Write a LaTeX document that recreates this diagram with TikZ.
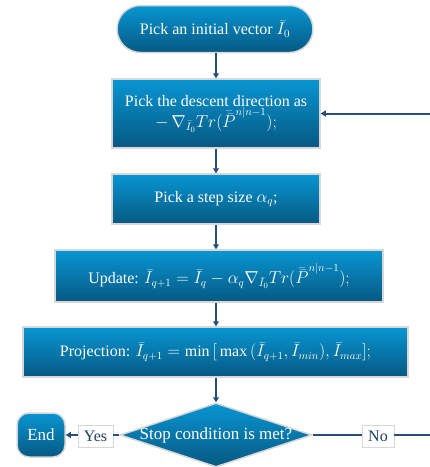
\documentclass[tikz,border=0pt]{standalone}
\usepackage{fontspec}
\setmainfont{Liberation Serif}
\usetikzlibrary{shapes.geometric,arrows.meta,calc}
\definecolor{boxtop}{RGB}{8,150,210}
\definecolor{boxbot}{RGB}{6,88,130}
\definecolor{rimgray}{RGB}{215,215,215}
\definecolor{flowline}{RGB}{40,78,122}
\newcommand{\dblP}{\bar{\bar{P}}^{n|n-1}}
\tikzset{
  x=1pt, y=1pt,
  blockbox/.style={draw=rimgray, line width=1.5pt, top color=boxtop, bottom color=boxbot,
    text=white, font=\fontsize{16}{18}\selectfont, align=center, inner sep=0pt},
  tagbox/.style={draw=rimgray, line width=0.8pt, fill=white, text=flowline!80!black,
    font=\fontsize{16}{18}\selectfont, inner sep=0pt},
  flow/.style={draw=flowline, line width=2pt, -{Triangle[length=5pt,width=6pt]}},
  flowplain/.style={draw=flowline, line width=2pt}
}
\begin{document}
\begin{tikzpicture}
\useasboundingbox (0,0) rectangle (430,-467);

% process steps
\node[blockbox, rounded corners=23.5pt, minimum width=196pt, minimum height=47pt]
  (init) at (215,-29) {Pick an initial vector $\bar{I}_0$};
\node[blockbox, minimum width=208pt, minimum height=69pt]
  (dir) at (216,-113.5) {Pick the descent direction as\\[0pt] $-\,\nabla_{\bar{I}_0} Tr\big(\dblP\big);$};
\node[blockbox, minimum width=208pt, minimum height=50pt]
  (step) at (216,-199) {Pick a step size $\alpha_q$;};
\node[blockbox, minimum width=328pt, minimum height=52pt]
  (upd) at (219,-276) {Update: $\bar{I}_{q+1} = \bar{I}_q - \alpha_q \nabla_{\bar{I}_0} Tr\big(\dblP\big);$};
\node[blockbox, minimum width=385pt, minimum height=50pt]
  (proj) at (215.5,-352) {Projection: $\bar{I}_{q+1} = \min\big[\max\big(\bar{I}_{q+1}, \bar{I}_{min}\big), \bar{I}_{max}\big];$};

% decision
\node[blockbox, diamond, minimum width=192pt, minimum height=64pt, font=\fontsize{17}{19}\selectfont]
  (stop) at (216,-435) {\makebox[0pt]{Stop condition is met?}};

% end terminal
\node[blockbox, rounded corners=12pt, minimum width=48pt, minimum height=44pt, font=\fontsize{17}{19}\selectfont]
  (fin) at (41,-435) {End};

% branch labels
\node[tagbox, minimum width=35pt, minimum height=22pt] (yes) at (95.5,-436) {Yes};
\node[tagbox, minimum width=32pt, minimum height=22pt] (no) at (378,-436) {No};

% loop return point beyond the right edge
\coordinate (loop) at (436,-435);

% connectors
\draw[flow] (init.south -| dir.north) -- (dir.north);
\draw[flow] (dir.south) -- (step.north);
\draw[flow] (step.south) -- (upd.north -| step.south);
\draw[flow] (upd.south -| step.south) -- (proj.north -| step.south);
\draw[flow] (proj.south -| stop.north) -- (stop.north);
\draw[flowplain] (stop.west) -- (yes.east |- stop.west);
\draw[flow] (yes.west |- stop.west) -- (fin.east);
\draw[flowplain] (stop.east) -- (no.west |- stop.east);
\draw[flow] (no.east |- stop.east) -- (loop) |- (dir.east);
\end{tikzpicture}
\end{document}
